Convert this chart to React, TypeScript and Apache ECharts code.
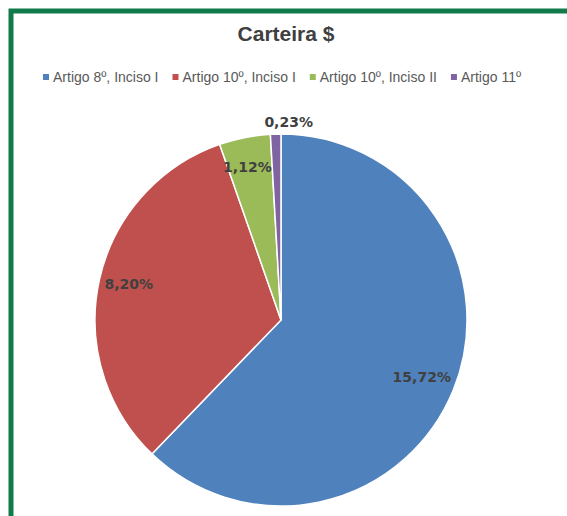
import React, { useEffect, useRef } from "react";
import * as echarts from "echarts";

const titleText = "Carteira $";
const categories = ["Artigo 8º, Inciso I", "Artigo 10º, Inciso I", "Artigo 10º, Inciso II", "Artigo 11º"];
const values = [15.72, 8.2, 1.12, 0.23];
const colors = ["#4F81BD", "#C0504D", "#9BBB59", "#8064A2"];

const fmt = (v: number) => v.toFixed(2).replace(".", ",") + "%";

export default function App() {
  const ref = useRef<HTMLDivElement>(null);
  useEffect(() => {
    if (!ref.current) return;
    const chart = echarts.init(ref.current, null, { renderer: "svg" });
    const data = categories.map((name, i) => ({
      name,
      value: values[i],
      itemStyle: { color: colors[i] },
    }));
    const R = 186;
    const center = [281, 320];
    chart.setOption({
      animation: false,
      backgroundColor: "#ffffff",
      title: {
        text: titleText,
        left: 281,
        textAlign: "center",
        top: 18,
        textStyle: { fontFamily: "Liberation Sans", fontWeight: "bold", fontSize: 21, color: "#404040" },
      },
      legend: {
        data: categories,
        top: 65,
        left: 36,
        itemWidth: 8,
        itemHeight: 8,
        itemGap: 12,
        icon: "rect",
        textStyle: { fontFamily: "Liberation Sans", fontSize: 14, color: "#595959", padding: [0, 0, 0, -2] },
      },
      graphic: [
        {
          type: "polyline",
          shape: { points: [[11, 516], [11, 11], [567, 11]] },
          style: { stroke: "#127B4C", lineWidth: 5, fill: "none" },
          silent: true,
        },
      ],
      series: [
        {
          type: "pie",
          center,
          radius: [0, R],
          startAngle: 90,
          clockwise: true,
          label: { show: false },
          labelLine: { show: false },
          itemStyle: { borderColor: "#ffffff", borderWidth: 1.5 },
          emphasis: { disabled: true },
          data,
        },
        {
          type: "pie",
          center,
          radius: [R * 0.6, R],
          startAngle: 90,
          clockwise: true,
          silent: true,
          itemStyle: { color: "rgba(0,0,0,0)" },
          emphasis: { disabled: true },
          labelLine: { show: false },
          label: {
            show: true,
            position: "inside",
            formatter: (p: any) => fmt(p.value),
            fontFamily: "DejaVu Sans",
            fontWeight: "bold",
            fontSize: 14,
            color: "#404040",
          },
          data: categories.map((name, i) => ({
            name,
            value: values[i],
            label:
              i === 3
                ? { offset: [12, -46] }
                : i === 2
                ? { offset: [-4, -4] }
                : i === 1
                ? { offset: [-4, -4] }
                : undefined,
          })),
        },
      ],
    });
    return () => chart.dispose();
  }, []);
  return <div ref={ref} style={{ position: "fixed", left: 0, top: 0, width: 567, height: 516 }} />;
}
